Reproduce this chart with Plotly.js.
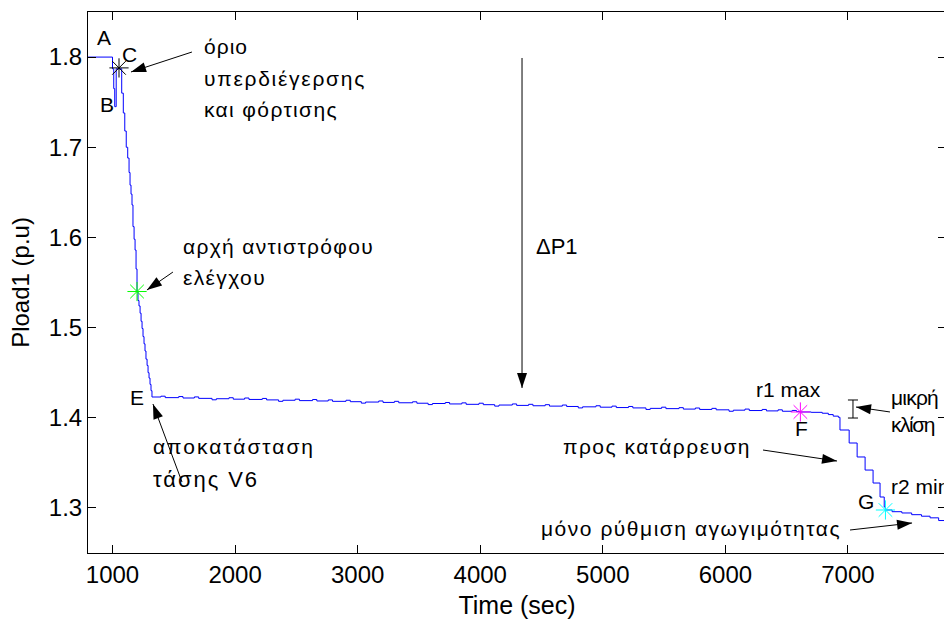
<!DOCTYPE html>
<html>
<head>
<meta charset="utf-8">
<script src="https://cdn.plot.ly/plotly-3.0.1.min.js"></script>
<style>
  html, body { margin: 0; padding: 0; width: 944px; height: 624px; overflow: hidden; background: #fff; }
  #chart { width: 1000px; height: 624px; }
</style>
</head>
<body>
<div id="chart"></div>
<script>
// Pload1 response: pre-disturbance level, A-B-C dip, inverse-control descent
const tStart = [800, 1000, 1010, 1018, 1030];
const pStart = [1.800, 1.787, 1.765, 1.745, 1.787];

const tDesc = [1075, 1088, 1100, 1112, 1124, 1135, 1143, 1151, 1159, 1167, 1176, 1184, 1192, 1200,
               1208, 1216, 1225, 1233, 1241, 1249, 1257, 1265, 1273, 1282, 1290, 1298, 1306, 1314, 1322];
const pDesc = [1.760, 1.738, 1.718, 1.700, 1.688, 1.672, 1.658, 1.648, 1.636, 1.612, 1.598, 1.586, 1.565, 1.540,
               1.530, 1.524, 1.516, 1.507, 1.499, 1.490, 1.482, 1.474, 1.465, 1.458, 1.450, 1.444, 1.437, 1.430, 1.423];

// Restored plateau with small tap-changer ripples
const tPlat = [1395, 1430, 1540, 1575, 1668, 1703, 1812, 1847, 1950, 1985, 2078, 2113, 2222, 2257,
               2355, 2390, 2490, 2525, 2632, 2667, 2760, 2795, 2905, 2940, 3030, 3065, 3172, 3207,
               3300, 3335, 3448, 3483, 3575, 3610, 3715, 3750, 3850, 3885, 3990, 4025, 4118, 4153,
               4262, 4297, 4395, 4430, 4530, 4565, 4670, 4705, 4800, 4835, 4944, 4979, 5075, 5110,
               5210, 5245, 5352, 5387, 5480, 5515, 5622, 5657, 5755, 5790, 5890, 5925, 6030, 6065,
               6160, 6195, 6300, 6335, 6430, 6465, 6545, 6580];
const pPlat = [1.4239, 1.4223, 1.4235, 1.4219, 1.4231, 1.4215, 1.4199, 1.4211, 1.4222, 1.4206, 1.4219, 1.4203, 1.4214, 1.4198,
               1.4182, 1.4194, 1.4206, 1.4190, 1.4202, 1.4186, 1.4198, 1.4182, 1.4194, 1.4178, 1.4162, 1.4174, 1.4186, 1.4170,
               1.4182, 1.4166, 1.4177, 1.4161, 1.4146, 1.4158, 1.4169, 1.4153, 1.4165, 1.4149, 1.4161, 1.4145, 1.4129, 1.4141,
               1.4153, 1.4137, 1.4149, 1.4133, 1.4145, 1.4129, 1.4141, 1.4125, 1.4109, 1.4121, 1.4133, 1.4117, 1.4129, 1.4113,
               1.4125, 1.4109, 1.4092, 1.4104, 1.4117, 1.4101, 1.4112, 1.4096, 1.4108, 1.4092, 1.4104, 1.4088, 1.4072, 1.4084,
               1.4096, 1.4080, 1.4092, 1.4076, 1.4088, 1.4072, 1.4081, 1.4068];

// Collapse staircase after r1 max and the conductance-only tail
const tEnd = [6612, 6700, 6790, 6840, 6880, 6922, 6935, 7010, 7075, 7140, 7205, 7262, 7296, 7306,
              7360, 7440, 7520, 7600, 7670, 7740, 7800];
const pEnd = [1.4064, 1.4060, 1.4050, 1.4035, 1.4018, 1.4005, 1.3864, 1.3720, 1.3565, 1.3420, 1.3276, 1.3121, 1.3010, 1.2977,
              1.2958, 1.2944, 1.2925, 1.2908, 1.2890, 1.2860, 1.2833];

// Event markers: C, start of inverse control, r1 max (F), r2 min (G)
const markT = [1053, 1200, 6612, 7306];
const markP = [1.788, 1.540, 1.4064, 1.2977];
const markColors = ['#000000', '#00ff00', '#ff00ff', '#00ffff'];

const xTicks = [1000, 2000, 3000, 4000, 5000, 6000, 7000];
const yTicks = [1.3, 1.4, 1.5, 1.6, 1.7, 1.8];

const X_RANGE = [800, 7800];
const Y_RANGE = [1.25, 1.85];
const MARGIN = { l: 88, r: 54, t: 12, b: 71 };
const FIG_W = 1000, FIG_H = 624;
const PX_PER_X = (FIG_W - MARGIN.l - MARGIN.r) / (X_RANGE[1] - X_RANGE[0]);
const PX_PER_Y = (FIG_H - MARGIN.t - MARGIN.b) / (Y_RANGE[1] - Y_RANGE[0]);
const FONT = 'Liberation Sans, Arial, Helvetica, sans-serif';

const curve = {
  x: tStart.concat(tDesc, tPlat, tEnd),
  y: pStart.concat(pDesc, pPlat, pEnd),
  type: 'scatter',
  mode: 'lines',
  line: { color: '#0000ff', width: 1, shape: 'hv' },
  hoverinfo: 'skip'
};

const markers = {
  x: markT,
  y: markP,
  type: 'scatter',
  mode: 'markers',
  marker: { symbol: 'asterisk-open', size: 16, color: markColors, line: { color: markColors, width: 1 } },
  hoverinfo: 'skip'
};

// Arrow = shaft line in data units + filled head drawn in pixel space at the tip
function arrow(x0, y0, x1, y1) {
  const dx = (x1 - x0) * PX_PER_X, dy = (y1 - y0) * PX_PER_Y;
  const len = Math.hypot(dx, dy);
  const ux = dx / len, uy = dy / len, nx = -uy, ny = ux;
  const L = 15, W = 5;
  const b1x = -L * ux + W * nx, b1y = -L * uy + W * ny;
  const b2x = -L * ux - W * nx, b2y = -L * uy - W * ny;
  return [
    { type: 'line', xref: 'x', yref: 'y', x0: x0, y0: y0, x1: x1, y1: y1,
      line: { color: '#000', width: 1 } },
    { type: 'path', xref: 'x', yref: 'y', xsizemode: 'pixel', ysizemode: 'pixel',
      xanchor: x1, yanchor: y1,
      path: `M0,0 L${b1x.toFixed(2)},${b1y.toFixed(2)} L${b2x.toFixed(2)},${b2y.toFixed(2)} Z`,
      fillcolor: '#000', line: { width: 0 } }
  ];
}

const shapes = [].concat(
  arrow(1648, 1.8056, 1151, 1.7835),   // όριο υπερδιέγερσης
  arrow(1493, 1.5616, 1281, 1.5417),   // αρχή αντιστρόφου ελέγχου
  arrow(1567, 1.3287, 1330, 1.4152),   // αποκατάσταση τάσης
  arrow(4341, 1.799, 4341, 1.433),     // ΔP1
  arrow(7343, 1.4064, 7066, 1.4119),   // μικρή κλίση
  arrow(6307, 1.3642, 6911, 1.3520),   // προς κατάρρευση
  arrow(7017, 1.2755, 7523, 1.2833),   // μόνο ρύθμιση αγωγιμότητας
  [
    // slope bracket
    { type: 'line', x0: 7041, x1: 7041, y0: 1.3997, y1: 1.4197, line: { color: '#000', width: 1 } },
    { type: 'line', x0: 7000, x1: 7082, y0: 1.4197, y1: 1.4197, line: { color: '#000', width: 1 } },
    { type: 'line', x0: 7000, x1: 7082, y0: 1.3997, y1: 1.3997, line: { color: '#000', width: 1 } }
  ]
);

// Greek captions are set with tracking so each line spans its intended width (px)
const measureCtx = document.createElement('canvas').getContext('2d');
function tracked(text, size, width) {
  measureCtx.font = size + 'px "Liberation Sans"';
  const natural = measureCtx.measureText(text).width;
  const n = Array.from(text).length;
  const ls = ((width - natural) / n).toFixed(2);
  return '<span style="letter-spacing:' + ls + 'px">' + text + '</span>';
}

function label(text, x, y, anchor, width, size) {
  const fs = size || 21;
  const body = width ? tracked(text, fs, width) : text;
  return { text: body, x: x, y: y, xref: 'x', yref: 'y', showarrow: false,
           xanchor: anchor || 'left', yanchor: 'middle', borderpad: 0,
           font: { family: FONT, size: fs, color: '#000' } };
}

const annotations = [
  label('A', 930, 1.8212, 'center'),
  label('B', 955, 1.7469, 'center'),
  label('C', 1135, 1.8034, 'center'),
  label('όριο', 1738, 1.8112, 'left', 44),
  label('υπερδιέγερσης', 1738, 1.7768, 'left', 162),
  label('και φόρτισης', 1738, 1.7424, 'left', 134),
  label('αρχή αντιστρόφου', 1567, 1.5894, 'left', 191),
  label('ελέγχου', 1567, 1.5561, 'left', 83),
  label('E', 1200, 1.423, 'center'),
  label('αποκατάσταση', 1322, 1.3676, 'left', 162),
  label('τάσης V6', 1322, 1.332, 'left', 106, 22),
  label('ΔP1', 4447, 1.5894, 'left', null, 22),
  label('r1 max', 6511, 1.4308, 'center'),
  label('F', 6625, 1.3886, 'center'),
  label('μικρή', 7343, 1.423, 'left', 47),
  label('κλίση', 7343, 1.392, 'left', 43),
  label('προς κατάρρευση', 4669, 1.3676, 'left', 188),
  label('r2 min', 7343, 1.3243),
  label('G', 7147, 1.3066, 'center'),
  label('μόνο ρύθμιση αγωγιμότητας', 4488, 1.2777, 'left', 300)
];

const axisCommon = {
  showline: true, linecolor: '#000', linewidth: 1, mirror: 'ticks',
  ticks: 'inside', ticklen: 8, tickwidth: 1, tickcolor: '#000',
  showgrid: false, zeroline: false,
  tickfont: { family: FONT, size: 24, color: '#000' }
};

const layout = {
  width: FIG_W, height: FIG_H,
  margin: MARGIN,
  paper_bgcolor: '#fff', plot_bgcolor: '#fff',
  showlegend: false,
  font: { family: FONT, size: 20, color: '#000' },
  xaxis: Object.assign({}, axisCommon, {
    range: X_RANGE, tickvals: xTicks, ticktext: xTicks.map(String),
    title: { text: 'Time (sec)', font: { family: FONT, size: 25, color: '#000' }, standoff: 9 }
  }),
  yaxis: Object.assign({}, axisCommon, {
    range: Y_RANGE, tickvals: yTicks, ticktext: yTicks.map(v => v.toFixed(1)),
    title: { text: 'Pload1 (p.u)', font: { family: FONT, size: 24, color: '#000' }, standoff: 12 }
  }),
  shapes: shapes,
  annotations: annotations
};

Plotly.newPlot('chart', [curve, markers], layout, { displayModeBar: false, staticPlot: true });
</script>
</body>
</html>
